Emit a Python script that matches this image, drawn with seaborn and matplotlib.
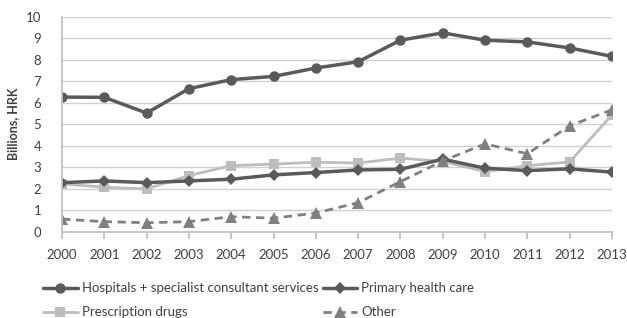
import matplotlib
matplotlib.use("Agg")
import matplotlib.pyplot as plt
import seaborn as sns
import numpy as np

years = list(range(2000, 2014))
hospitals = [6.26, 6.25, 5.52, 6.65, 7.07, 7.22, 7.61, 7.9, 8.9, 9.24, 8.9, 8.82, 8.54, 8.15]
primary = [2.29, 2.37, 2.29, 2.37, 2.45, 2.65, 2.76, 2.88, 2.91, 3.38, 2.96, 2.85, 2.93, 2.78]
prescription = [2.23, 2.08, 2.0, 2.62, 3.08, 3.15, 3.24, 3.2, 3.43, 3.27, 2.8, 3.08, 3.25, 5.44]
other = [0.6, 0.48, 0.43, 0.48, 0.71, 0.64, 0.88, 1.36, 2.34, 3.3, 4.09, 3.63, 4.93, 5.67]
labels = ["Hospitals + specialist consultant services", "Primary health care",
          "Prescription drugs", "Other"]

sns.set_theme(style="white")
plt.rcParams['font.family'] = ['Lato', 'DejaVu Sans']
txt = "#404040"

fig = plt.figure(figsize=(6.27, 3.18), dpi=100)
ax = fig.add_axes([62/627, 1-232/318, 550/627, 215.5/318])

ax.set_ylim(0, 10)
ax.set_xlim(2000, 2013)
ax.set_yticks(range(0, 11))
ax.yaxis.grid(True, color="#d0d0d0", linewidth=1)
ax.set_axisbelow(True)

sns.lineplot(x=years, y=hospitals, ax=ax, color="#5a5a5a", linewidth=2.5,
             marker="o", markersize=7.5, markeredgewidth=0, label=labels[0])
sns.lineplot(x=years, y=prescription, ax=ax, color="#bdbdbd", linewidth=2,
             marker="s", markersize=7.5, markeredgewidth=0, label=labels[2])
sns.lineplot(x=years, y=primary, ax=ax, color="#5a5a5a", linewidth=2.5,
             marker="D", markersize=6.5, markeredgewidth=0, label=labels[1])
sns.lineplot(x=years, y=other, ax=ax, color="#808080", linewidth=2, linestyle=(0, (3, 2)),
             marker="^", markersize=8, markeredgewidth=0, label=labels[3])

ax.set_xticks(years)
ax.set_xticklabels([str(y) for y in years])
for s in ["top", "right"]:
    ax.spines[s].set_visible(False)
ax.spines["left"].set_color("#c0c0c0")
ax.spines["bottom"].set_color("#c0c0c0")
ax.tick_params(axis="x", which="both", bottom=True, length=5, color="#c0c0c0",
               labelsize=9.5, labelcolor=txt, pad=7)
ax.tick_params(axis="y", left=False, labelsize=9.5, labelcolor=txt, pad=9)
ax.set_ylabel("Billions, HRK", fontsize=9, fontweight="bold", color=txt, labelpad=5)
ax.set_xlabel("")

handles, labs = ax.get_legend_handles_labels()
ax.get_legend().remove()
order = [0, 1, 2, 3]  # hospitals, prescription, primary, other
fig.legend([handles[i] for i in order], [labs[i] for i in order], ncol=2,
           loc="upper left", bbox_to_anchor=(38/627, 1-277/318), frameon=False,
           fontsize=9.5, labelcolor=txt, handlelength=2.6, handletextpad=0.3,
           columnspacing=0.35, labelspacing=0.9, borderaxespad=0)

fig.savefig("out.png", dpi=100)
